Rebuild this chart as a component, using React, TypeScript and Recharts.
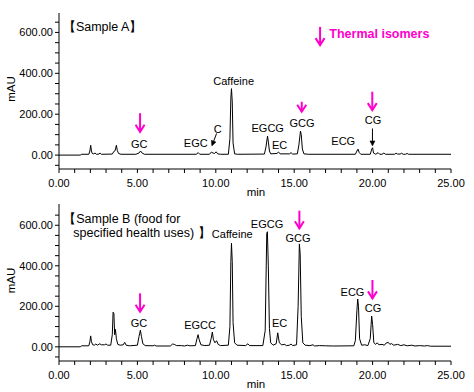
import React from 'react';
import { LineChart, Line, XAxis, YAxis, ReferenceDot, ReferenceLine, Label } from 'recharts';

const minuteTicks = [0, 1, 2, 3, 4, 5, 6, 7, 8, 9, 10, 11, 12, 13, 14, 15, 16, 17, 18, 19, 20, 21, 22, 23, 24, 25];
const mauTicks = [-50, 0, 50, 100, 150, 200, 250, 300, 350, 400, 450, 500, 550, 600, 650];

// [min, mAU] trace points
const traceA: [number, number][] = [
  [0, 0], [1.35, 0], [1.45, 4], [1.9, 4], [1.97, 20], [2.02, 48], [2.07, 20], [2.12, 8], [2.2, 6], [2.3, 10],
  [2.38, 4], [2.55, 5], [2.62, 10], [2.7, 4], [3.4, 5], [3.5, 18], [3.58, 22], [3.66, 48], [3.72, 22], [3.8, 8],
  [3.95, 4], [4.9, 4], [5.1, 10], [5.2, 20], [5.3, 10], [5.45, 4], [8.75, 4], [8.88, 12], [8.98, 4], [9.6, 4],
  [9.72, 15], [9.82, 10], [9.92, 8], [10.02, 16], [10.12, 6], [10.3, 4], [10.8, 4], [10.9, 80], [10.96, 280],
  [11.0, 325], [11.05, 260], [11.1, 60], [11.2, 6], [11.4, 4], [13.1, 5], [13.2, 40], [13.3, 93], [13.36, 60],
  [13.42, 20], [13.5, 6], [13.9, 8], [14.0, 15], [14.1, 6], [14.7, 6], [14.8, 12], [14.9, 5], [15.2, 6],
  [15.3, 50], [15.4, 117], [15.45, 100], [15.52, 30], [15.62, 6], [15.9, 4], [18.9, 4], [19.0, 20], [19.07, 29],
  [19.15, 12], [19.25, 4], [19.85, 4], [19.95, 30], [20.0, 36], [20.06, 10], [20.2, 4], [20.35, 12], [20.45, 4],
  [20.6, 4], [20.72, 10], [20.82, 4], [21.4, 4], [21.5, 9], [21.6, 5], [21.75, 5], [21.85, 9], [21.95, 4],
  [22.1, 4], [22.2, 8], [22.3, 4], [25, 4],
];

const traceB: [number, number][] = [
  [0, 0], [1.35, 0], [1.45, 5], [1.9, 5], [1.97, 25], [2.02, 54], [2.07, 25], [2.15, 10], [2.25, 8], [2.35, 14],
  [2.45, 8], [2.6, 15], [2.7, 10], [2.9, 10], [3.0, 14], [3.1, 8], [3.3, 8], [3.4, 60], [3.45, 171], [3.5, 165],
  [3.55, 60], [3.6, 86], [3.66, 40], [3.75, 12], [3.9, 8], [4.1, 10], [4.19, 22], [4.28, 8], [4.5, 5], [5.0, 8],
  [5.1, 50], [5.19, 82], [5.26, 50], [5.35, 15], [5.5, 6], [6.0, 5], [6.1, 8], [6.2, 4], [7.1, 4], [7.25, 14],
  [7.35, 12], [7.5, 6], [7.8, 6], [8.0, 4], [8.2, 8], [8.35, 5], [8.7, 6], [8.8, 40], [8.87, 60], [8.94, 35],
  [9.05, 10], [9.3, 6], [9.6, 8], [9.7, 40], [9.78, 73], [9.85, 35], [9.95, 20], [10.05, 30], [10.15, 12],
  [10.3, 6], [10.8, 8], [10.9, 100], [10.96, 420], [11.0, 511], [11.05, 420], [11.1, 120], [11.2, 20], [11.35, 8],
  [11.9, 6], [12.05, 15], [12.15, 6], [13.0, 6], [13.15, 80], [13.25, 560], [13.29, 568], [13.35, 400],
  [13.42, 90], [13.5, 20], [13.65, 8], [13.85, 15], [13.95, 69], [14.05, 20], [14.2, 10], [14.4, 12], [14.5, 6],
  [14.7, 8], [14.8, 14], [14.9, 6], [15.15, 10], [15.25, 200], [15.33, 508], [15.38, 460], [15.45, 150],
  [15.55, 20], [15.7, 8], [16.0, 6], [16.2, 10], [16.3, 4], [16.6, 6], [17.0, 5], [17.5, 4], [18.8, 5],
  [18.9, 30], [19.0, 180], [19.05, 236], [19.1, 200], [19.17, 40], [19.3, 8], [19.5, 10], [19.7, 6], [19.85, 40],
  [19.94, 152], [20.0, 110], [20.08, 20], [20.2, 12], [20.3, 20], [20.4, 10], [20.6, 12], [20.75, 8], [20.85, 18],
  [21.0, 22], [21.1, 12], [21.2, 16], [21.35, 8], [21.6, 12], [21.8, 6], [22.0, 10], [22.2, 5], [22.5, 8],
  [22.7, 4], [23.0, 6], [23.3, 4], [23.5, 6], [23.7, 3], [25, 3],
];

// peak names: [label, min, mAU]
const peakNamesA: [string, number, number][] = [
  ['GC', 5.12, 54], ['EGC', 8.72, 57], ['C', 10.12, 129], ['Caffeine', 11.14, 362], ['EGCG', 13.31, 133],
  ['EC', 14.07, 49], ['GCG', 15.5, 158], ['ECG', 18.13, 68], ['CG', 20.03, 171],
];
const peakNamesB: [string, number, number][] = [
  ['GC', 5.1, 120], ['EGCC', 9.0, 109], ['Caffeine', 11.05, 557], ['EGCG', 13.27, 608], ['EC', 14.07, 116],
  ['GCG', 15.24, 536], ['ECG', 18.72, 270], ['CG', 20.03, 191],
];

// panel titles: [text, min, mAU]
const titleA: [string, number, number][] = [['【Sample A】', 0.25, 627]];
const titleB: [string, number, number][] = [
  ['【Sample B (food for', 0.27, 631],
  ['specified health uses) 】', 0.91, 560],
];

// thermal isomer arrows: [min, from mAU, to mAU]
const isomerArrowsA: [number, number, number][] = [[5.17, 205, 114], [15.48, 261, 212], [19.98, 310, 220]];
const isomerArrowsB: [number, number, number][] = [[5.17, 264, 173], [15.33, 672, 585], [19.99, 330, 239]];
const legendArrow: [number, number, number] = [16.65, 627, 538];
const legendText: [string, number, number] = ['Thermal isomers', 17.24, 590];

// pointer arrows: [from min, from mAU, to min, to mAU]
const pointersA: [number, number, number, number][] = [[10.05, 106, 9.75, 45], [19.99, 130, 19.99, 45]];

const MAGENTA = '#ff00cc';
const FONT = 'Arial, "Liberation Sans", sans-serif';

const arrowShape = (color: string, width: number, head: number, spread: number, filled: boolean) => (p: any) => {
  const { x1, y1, x2, y2 } = p;
  const len = Math.hypot(x2 - x1, y2 - y1) || 1;
  const ux = (x2 - x1) / len;
  const uy = (y2 - y1) / len;
  const bx = x2 - ux * head;
  const by = y2 - uy * head;
  const lx = bx - uy * spread;
  const ly = by + ux * spread;
  const rx = bx + uy * spread;
  const ry = by - ux * spread;
  return (
    <g>
      <line x1={x1} y1={y1} x2={filled ? bx : x2} y2={filled ? by : y2} stroke={color} strokeWidth={width} />
      {filled ? (
        <path d={`M${lx},${ly} L${x2},${y2} L${rx},${ry} Z`} fill={color} stroke={color} strokeWidth={0.5} />
      ) : (
        <path d={`M${lx},${ly} L${x2},${y2} L${rx},${ry}`} fill="none" stroke={color} strokeWidth={width} />
      )}
    </g>
  );
};

const textShape = (text: string, anchor: string, size: number, color: string, bold: boolean) => (p: any) => (
  <text
    x={p.cx}
    y={p.cy}
    textAnchor={anchor as any}
    dominantBaseline="central"
    fontSize={size}
    fontFamily={FONT}
    fontWeight={bold ? 'bold' : 'normal'}
    fill={color}
  >
    {text}
  </text>
);

const yTitle = (props: any) => {
  const vb = props.viewBox || { x: 0, y: 0, width: 0, height: 0 };
  const cx = vb.x + 11;
  const cy = vb.y + vb.height / 2 - 2;
  return (
    <text x={cx} y={cy} transform={`rotate(-90 ${cx} ${cy})`} textAnchor="middle" dominantBaseline="central"
      fontSize={11.5} fontFamily={FONT} fill="#000">
      mAU
    </text>
  );
};

const xTitle = (props: any) => {
  const vb = props.viewBox || { x: 0, y: 0, width: 0, height: 0 };
  return (
    <text x={vb.x + vb.width / 2 + 1} y={vb.y + 22.5} textAnchor="middle" dominantBaseline="central"
      fontSize={11.5} fontFamily={FONT} fill="#000">
      min
    </text>
  );
};

interface ChromProps {
  trace: [number, number][];
  names: [string, number, number][];
  title: [string, number, number][];
  isomers: [number, number, number][];
  pointers: [number, number, number, number][];
  legend: boolean;
  height: number;
  top: number;
  bottom: number;
  yDomain: [number, number];
}

const Chromatogram: React.FC<ChromProps> = ({ trace, names, title, isomers, pointers, legend, height, top, bottom, yDomain }) => {
  const data = trace.map(([t, v]) => ({ t, v }));
  const tick = { fontSize: 11, fill: '#000', fontFamily: FONT };
  return (
    <LineChart width={474} height={height} data={data} margin={{ top, right: 23, left: 0, bottom: 0 }}>
      <XAxis
        dataKey="t"
        type="number"
        domain={[0, 25]}
        ticks={minuteTicks}
        tickFormatter={(v: number) => (v % 5 === 0 ? v.toFixed(2) : '')}
        tick={tick}
        tickSize={4}
        tickMargin={6}
        height={bottom}
        stroke="#000"
        interval={0}
        allowDataOverflow
      >
        <Label content={xTitle} />
      </XAxis>
      <XAxis xAxisId="top" orientation="top" type="number" domain={[0, 25]} height={0} tick={false} tickLine={false} stroke="#000" />
      <YAxis
        type="number"
        domain={yDomain}
        ticks={mauTicks}
        tickFormatter={(v: number) => (v >= 0 && v % 200 === 0 ? v.toFixed(2) : '')}
        tick={tick}
        tickSize={4}
        tickMargin={2}
        width={59}
        stroke="#000"
        interval={0}
        allowDataOverflow
      >
        <Label content={yTitle} />
      </YAxis>
      <YAxis yAxisId="right" orientation="right" type="number" domain={yDomain} width={0} tick={false} tickLine={false} stroke="#000" />
      <Line dataKey="v" type="linear" stroke="#000" strokeWidth={1} dot={false} activeDot={false} isAnimationActive={false} />
      {names.map(([n, t, v]) => (
        <ReferenceDot key={`n-${n}`} x={t} y={v} r={0} shape={textShape(n, 'middle', 11, '#000', false)} />
      ))}
      {title.map(([n, t, v]) => (
        <ReferenceDot key={`t-${n}`} x={t} y={v} r={0} shape={textShape(n, 'start', 12.5, '#000', false)} />
      ))}
      {isomers.map(([t, a, b]) => (
        <ReferenceLine key={`i-${t}`} segment={[{ x: t, y: a }, { x: t, y: b }]} shape={arrowShape(MAGENTA, 2, 7, 4.5, false)} />
      ))}
      {pointers.map(([t1, a, t2, b]) => (
        <ReferenceLine key={`p-${t1}`} segment={[{ x: t1, y: a }, { x: t2, y: b }]} shape={arrowShape('#000', 1, 5, 2.5, true)} />
      ))}
      {legend && (
        <ReferenceLine
          segment={[{ x: legendArrow[0], y: legendArrow[1] }, { x: legendArrow[0], y: legendArrow[2] }]}
          shape={arrowShape(MAGENTA, 2, 7, 4.5, false)}
        />
      )}
      {legend && (
        <ReferenceDot x={legendText[1]} y={legendText[2]} r={0} shape={textShape(legendText[0], 'start', 12.5, MAGENTA, true)} />
      )}
    </LineChart>
  );
};

export default function App() {
  return (
    <div style={{ position: 'absolute', left: 0, top: 0, width: 474, height: 392, background: '#fff' }}>
      <Chromatogram
        trace={traceA}
        names={peakNamesA}
        title={titleA}
        isomers={isomerArrowsA}
        pointers={pointersA}
        legend
        height={198}
        top={13}
        bottom={29}
        yDomain={[-68, 695]}
      />
      <Chromatogram
        trace={traceB}
        names={peakNamesB}
        title={titleB}
        isomers={isomerArrowsB}
        pointers={[]}
        legend={false}
        height={194}
        top={6}
        bottom={31}
        yDomain={[-70, 705]}
      />
    </div>
  );
}
